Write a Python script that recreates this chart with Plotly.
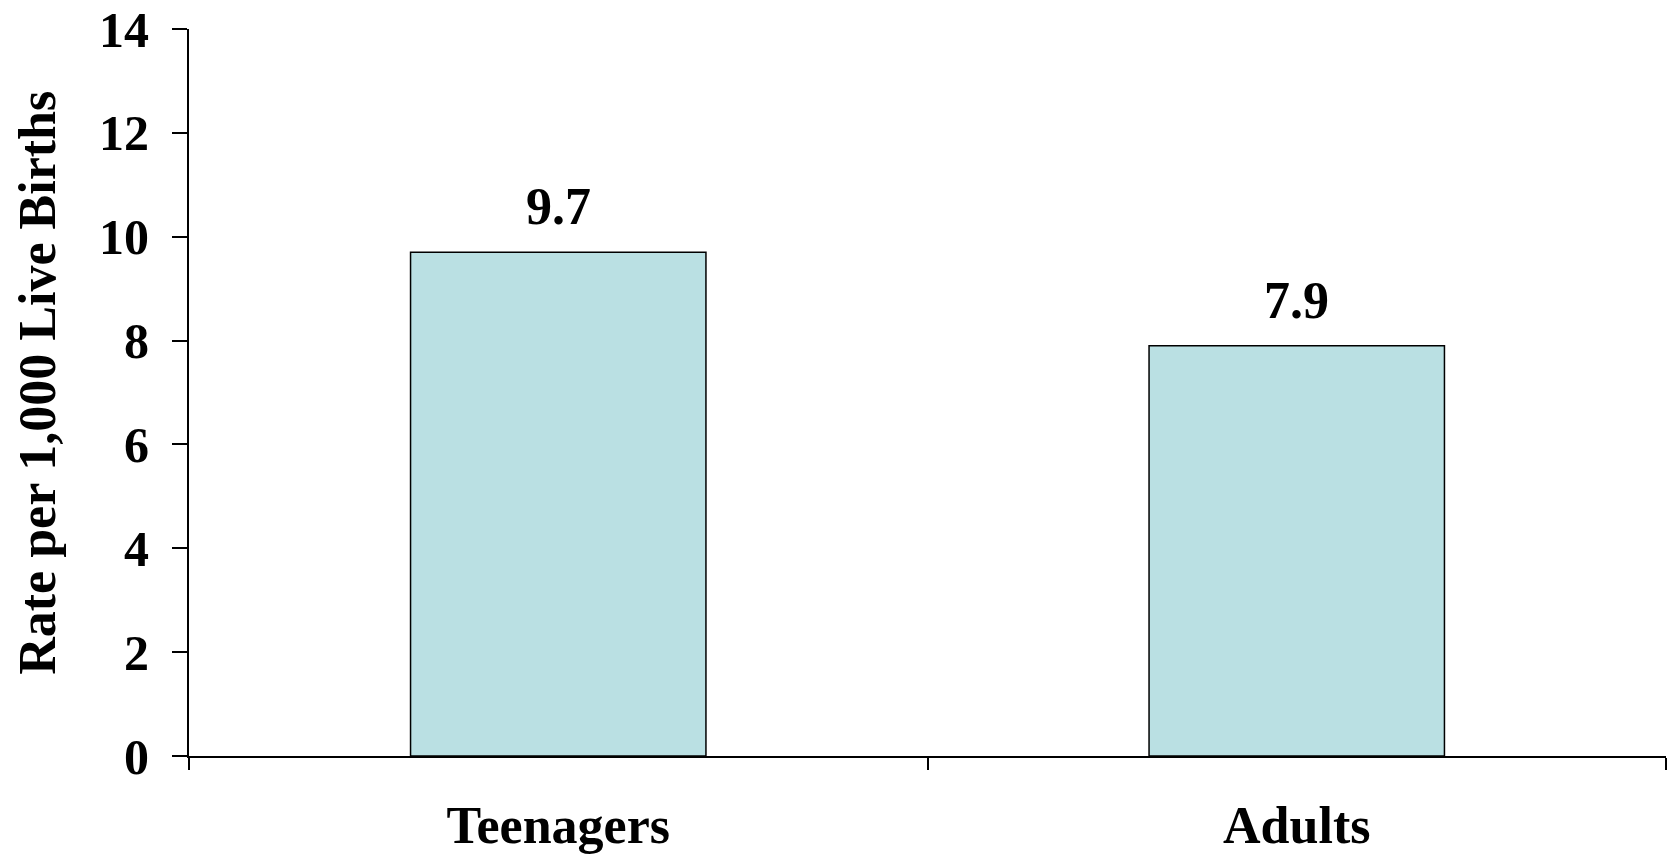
import plotly.graph_objects as go

categories = ["Teenagers", "Adults"]
values = [9.7, 7.9]
value_labels = ["9.7", "7.9"]
y_ticks = [0, 2, 4, 6, 8, 10, 12, 14]
y_title = "Rate per 1,000 Live Births"

FONT = "Liberation Serif"

fig = go.Figure()
fig.add_trace(go.Bar(
    x=categories, y=values,
    width=0.4,
    marker=dict(color="#BAE0E3", line=dict(color="#000000", width=1.5)),
    showlegend=False,
))

for c, v, t in zip(categories, values, value_labels):
    fig.add_annotation(x=c, y=v, text=t, showarrow=False, yanchor="bottom",
                       yshift=15, font=dict(family=FONT, size=52, color="black", weight="bold"))

# y-axis title as a rotated annotation
fig.add_annotation(xref="paper", yref="paper", x=-0.1026, y=0.514, text=y_title,
                   textangle=-90, showarrow=False, xanchor="center", yanchor="middle",
                   font=dict(family=FONT, size=52, color="black", weight="bold"))

fig.update_layout(
    width=1675, height=855,
    margin=dict(l=189, r=9, t=29, b=99),
    paper_bgcolor="white", plot_bgcolor="white",
    font=dict(family=FONT, color="black", weight="bold"),
    bargap=0.6,
)
fig.update_xaxes(
    showline=True, linecolor="black", linewidth=2,
    ticks="outside", ticklen=12, tickwidth=1.5, tickcolor="black",
    tickson="boundaries",
    tickfont=dict(family=FONT, size=52, color="black", weight="bold"),
    ticklabelstandoff=23,
    showgrid=False, zeroline=False,
    automargin=False,
)
fig.update_yaxes(
    range=[0, 14], tickvals=y_ticks,
    showline=True, linecolor="black", linewidth=2,
    ticks="outside", ticklen=15, tickwidth=2, tickcolor="black",
    tickfont=dict(family=FONT, size=50, color="black", weight="bold"),
    ticklabelstandoff=13,
    ticklabeloverflow="allow",
    showgrid=False, zeroline=False,
    automargin=False,
)

fig.write_html("out.html", config={"displayModeBar": False},
               post_script="document.body.style.margin='0';")
